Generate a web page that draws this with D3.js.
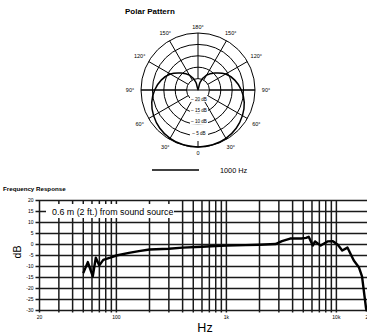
<!DOCTYPE html>
<html><head><meta charset="utf-8">
<script src="https://cdn.jsdelivr.net/npm/d3@7"></script>
<style>body{margin:0;background:#fff}svg{display:block;font-family:"Liberation Sans",Arial,Helvetica,sans-serif}</style>
</head><body><svg id="c" width="367" height="334"></svg>
<script>
// ---- Polar pattern data ----
const polarAnglesDeg = [0,15,30,45,60,75,90,105,120,135,150,165,180];
const polarDb = [0,-0.1,-0.5,-1.3,-2.5,-4,-6,-8.3,-11,-14.5,-17.5,-21.5,-25];
const ringDb = [0,-5,-10,-15,-20];
const ringLabelDb = [-5,-10,-15,-20];
const ringLabels = ["– 5 dB","– 10 dB","– 15 dB","– 20 dB"];
const spokeDeg = [30,60,90,120,150,180,210,240,270,300,330];
const angleLabelDeg = [0,30,60,90,120,150,180,-30,-60,-90,-120,-150];
const angleLabels = ["0","30°","60°","90°","120°","150°","180°","30°","60°","90°","120°","150°"];
const legendLabel = "1000 Hz";

// ---- Frequency response data ----
const freqHz = [50,55,61,65,70,76,88,100,130,160,200,300,400,600,800,1000,1500,2000,2800,3200,3800,4800,5300,5600,6100,6400,7200,8300,9300,10300,11300,12600,14400,16000,17100,18600,19500];
const respDb = [-13,-8,-14.5,-6,-9.5,-7,-6,-5,-3.8,-3,-2.3,-1.9,-1.4,-1,-0.7,-0.5,-0.3,-0.1,0.2,1.5,2.7,2.7,3.0,3.5,-0.5,1.4,-0.5,1.4,1.5,-0.1,-2.7,-1.4,-7.3,-10.3,-14.5,-29,-33];
const dbTicks = [20,15,10,5,0,-5,-10,-15,-20,-25,-30];
const freqGrid = [20,30,40,50,60,70,80,90,100,200,300,400,500,600,700,800,900,1000,2000,3000,4000,5000,6000,7000,8000,9000,10000,20000];
const freqTickVals = [20,100,1000,10000,20000];
const freqTickLabels = ["20","100","1k","10k","20k"];
const annotation = "0.6 m (2 ft.) from sound source";

const svg = d3.select("#c");

// ================= POLAR =================
const cx = 198, cy = 90;
const r = d3.scaleLinear().domain([-25,0]).range([0,57]);
const pg = svg.append("g").attr("transform",`translate(${cx},${cy})`);

svg.append("text").attr("x",125).attr("y",14).attr("font-size",8).attr("font-weight","bold").text("Polar Pattern");

pg.selectAll("circle.ring").data(ringDb).join("circle")
  .attr("r",d=>r(d)).attr("fill","none").attr("stroke","#000").attr("stroke-width",1);
const toXY = (deg,rad)=>{const t=deg*Math.PI/180;return [-rad*Math.sin(t), rad*Math.cos(t)];};
pg.selectAll("line.spoke").data(spokeDeg).join("line")
  .attr("x1",d=>toXY(d,r(-20))[0]).attr("y1",d=>toXY(d,r(-20))[1])
  .attr("x2",d=>toXY(d,r(0))[0]).attr("y2",d=>toXY(d,r(0))[1])
  .attr("stroke","#000").attr("stroke-width",1);
pg.append("line").attr("x1",-r(0)).attr("x2",r(0)).attr("y1",0).attr("y2",0).attr("stroke","#000").attr("stroke-width",1);
pg.append("line").attr("x1",0).attr("x2",0).attr("y1",r(0)-6).attr("y2",r(0)).attr("stroke","#000").attr("stroke-width",1);

const full = polarAnglesDeg.map((a,i)=>({a,db:polarDb[i]}))
  .concat(polarAnglesDeg.slice(1,-1).reverse().map(a=>({a:360-a, db:polarDb[polarAnglesDeg.indexOf(a)]})));
const radial = d3.lineRadial().angle(d=>Math.PI - d.a*Math.PI/180).radius(d=>r(Math.max(d.db,-25))).curve(d3.curveCardinalClosed.tension(0.3));
pg.append("path").attr("d",radial(full)).attr("fill","none").attr("stroke","#000").attr("stroke-width",1.5);

const rl = pg.selectAll("g.rl").data(ringLabelDb).join("g");
rl.append("rect").attr("x",-8).attr("y",d=>r(d)-5.5).attr("width",18).attr("height",6).attr("fill","#fff");
rl.append("text").attr("x",1).attr("y",d=>r(d)-0.8).attr("font-size",4.6).attr("text-anchor","middle")
  .text((d,i)=>ringLabels[i]);

pg.selectAll("text.al").data(angleLabelDeg).join("text")
  .attr("font-size",5.5).attr("text-anchor","middle")
  .attr("x",d=>toXY(d,63+5*Math.abs(Math.sin(d*Math.PI/180)))[0])
  .attr("y",d=>toXY(d,63+5*Math.abs(Math.sin(d*Math.PI/180)))[1]+2)
  .text((d,i)=>angleLabels[i]);

svg.append("line").attr("x1",152).attr("x2",199).attr("y1",170).attr("y2",170).attr("stroke","#000").attr("stroke-width",1.5);
svg.append("text").attr("x",220).attr("y",172.5).attr("font-size",7.3).text(legendLabel);

// ================= FREQUENCY RESPONSE =================
const x = d3.scaleLog().domain([20,20000]).range([39.5,369.5]);
const y = d3.scaleLinear().domain([-30,20]).range([310.5,200.5]);

svg.append("text").attr("x",3).attr("y",191).attr("font-size",6.2).attr("font-weight","bold").text("Frequency Response");

const fg = svg.append("g");
fg.selectAll("line.v").data(freqGrid).join("line")
  .attr("x1",d=>x(d)).attr("x2",d=>x(d)).attr("y1",y(20)).attr("y2",y(-30)+2)
  .attr("stroke","#1a1a1a").attr("stroke-width",1.5);
fg.selectAll("line.h").data(dbTicks).join("line")
  .attr("x1",x(20)-4).attr("x2",367).attr("y1",d=>y(d)).attr("y2",d=>y(d))
  .attr("stroke","#1a1a1a").attr("stroke-width",1.5);

fg.selectAll("text.yl").data(dbTicks).join("text")
  .attr("x",x(20)-6).attr("y",d=>y(d)+1.7).attr("font-size",5).attr("text-anchor","end").text(d=>d);
fg.selectAll("text.xl").data(freqTickVals).join("text")
  .attr("x",d=>x(d)).attr("y",y(-30)+8).attr("font-size",5).attr("text-anchor","middle").text((d,i)=>freqTickLabels[i]);

fg.append("rect").attr("x",46).attr("y",y(20)+3.5).attr("width",128).attr("height",14).attr("fill","#fff");
fg.append("text").attr("x",52).attr("y",y(15)+3).attr("font-size",8.9).text(annotation);

svg.append("text").attr("transform",`translate(21,252) rotate(-90)`).attr("font-size",10.5).attr("text-anchor","middle").text("dB");
svg.append("text").attr("x",205).attr("y",332).attr("font-size",12.5).attr("text-anchor","middle").text("Hz");

svg.append("clipPath").attr("id","pc").append("rect").attr("x",x(20)).attr("y",y(20)).attr("width",370-x(20)).attr("height",y(-30)-y(20)+1);
const line = d3.line().x((d,i)=>x(freqHz[i])).y(d=>y(d));
svg.append("path").attr("clip-path","url(#pc)").attr("d",line(respDb))
  .attr("fill","none").attr("stroke","#000").attr("stroke-width",2.4).attr("stroke-linejoin","round");
</script></body></html>
